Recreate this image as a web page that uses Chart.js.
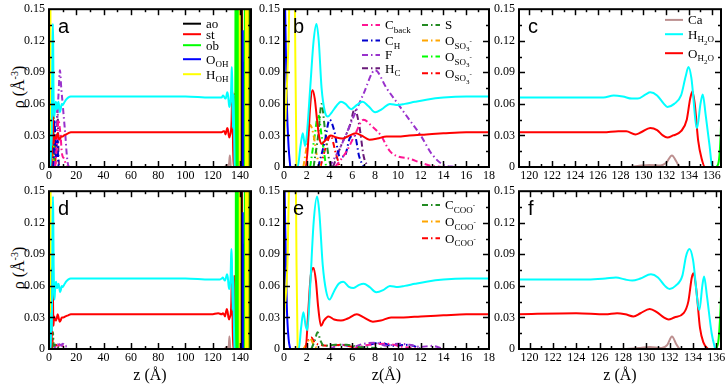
<!DOCTYPE html>
<html>
<head>
<meta charset="utf-8">
<script src="https://cdn.jsdelivr.net/npm/chart.js@4.4.0/dist/chart.umd.min.js"></script>
<style>
  body { margin: 0; background: #fff; width: 726px; height: 386px; position: relative; overflow: hidden; font-family: "Liberation Serif", serif; }
  canvas { position: absolute; }
  .ylab { position: absolute; width: 100px; height: 20px; line-height: 20px; text-align: center; font-size: 16px; transform: rotate(-90deg); }
  .ylab sup { font-size: 10px; }
</style>
</head>
<body>
<div class="ylab" style="left:-35px;top:77px">ρ (Å<sup>-3</sup>)</div>
<div class="ylab" style="left:-35px;top:258px">ρ (Å<sup>-3</sup>)</div>
<script>
// тики
const yTicks = [0, 0.03, 0.06, 0.09, 0.12, 0.15];
const xTicksWide = [0, 20, 40, 60, 80, 100, 120, 140];
const xTicksNear = [0, 2, 4, 6, 8, 10, 12, 14, 16, 18];
const xTicksFar = [120, 122, 124, 126, 128, 130, 132, 134, 136];

// панель b: SO3-поверхность, z 0..18
const hWaterB = [[0,0],[1.2,0],[1.45,0.02],[1.65,0.032],[1.85,0.02],[2.0,0.03],[2.3,0.075],[2.6,0.12],[2.85,0.136],[3.05,0.12],[3.3,0.075],[3.6,0.052],[3.85,0.048],[4.2,0.052],[4.6,0.058],[5.0,0.062],[5.4,0.06],[5.9,0.055],[6.4,0.059],[6.9,0.062],[7.4,0.058],[8.0,0.052],[8.6,0.055],[9.3,0.06],[10.0,0.059],[10.6,0.06],[11.5,0.062],[12.5,0.064],[14,0.066],[16,0.067],[18,0.067]];
const oWaterB = [[0,0],[1.9,0],[2.1,0.02],[2.3,0.058],[2.5,0.073],[2.7,0.065],[2.9,0.045],[3.1,0.028],[3.3,0.022],[3.6,0.025],[4.1,0.03],[4.6,0.028],[5.1,0.027],[5.6,0.029],[6.3,0.032],[6.8,0.03],[7.5,0.026],[8.2,0.027],[9,0.029],[10,0.029],[11,0.03],[12.5,0.031],[14,0.032],[16,0.033],[18,0.033]];
const hOHB = [[0,0.02],[0.4,0.12],[0.55,0.2],[0.9,0.2],[1.0,0.1],[1.1,0]];
const oOHB = [[0,0.2],[0.1,0.15],[0.25,0.06],[0.4,0.02],[0.55,0]];
const cBack = [[4.5,0],[5.5,0.015],[6.2,0.03],[7.0,0.045],[7.6,0.04],[8.5,0.03],[9.3,0.015],[10,0.01],[11,0.008],[12,0.004],[13,0.001],[14,0]];
const cH = [[3,0],[3.6,0.025],[4.0,0.045],[4.4,0.035],[4.9,0.01],[5.3,0.01],[5.8,0.028],[6.2,0.03],[6.6,0.01],[7,0]];
const fluor = [[4,0],[5,0.02],[6,0.045],[7,0.07],[8,0.092],[9,0.075],[10,0.06],[11,0.045],[12,0.03],[13,0.012],[14,0.002],[15,0]];
const hC = [[4.3,0],[5,0.02],[5.8,0.04],[6.2,0.055],[6.6,0.04],[7,0.01],[7.4,0]];
const sulf = [[2.6,0],[3.0,0.03],[3.3,0.06],[3.6,0.035],[4,0.005],[4.3,0]];
const oSO3a = [[1.7,0],[2.0,0.02],[2.3,0.04],[2.6,0.03],[2.9,0.01],[3.2,0]];
const oSO3b = [[2.3,0],[2.7,0.03],[3.0,0.05],[3.3,0.03],[3.7,0]];
const oSO3c = [[3.2,0],[3.7,0.02],[4.1,0.03],[4.5,0.015],[4.9,0]];

// панель e: COO-поверхность, z 0..18
const hWaterE = [[0,0],[1.3,0],[1.5,0.02],[1.7,0.035],[1.9,0.022],[2.05,0.018],[2.3,0.06],[2.6,0.12],[2.9,0.145],[3.1,0.13],[3.4,0.08],[3.7,0.055],[4.0,0.047],[4.4,0.055],[4.8,0.062],[5.2,0.064],[5.7,0.059],[6.1,0.058],[6.6,0.061],[7,0.062],[7.5,0.059],[8.1,0.054],[8.7,0.056],[9.3,0.06],[10,0.059],[10.6,0.06],[11.5,0.062],[12.5,0.064],[14,0.066],[16,0.067],[18,0.067]];
const oWaterE = [[0,0],[1.9,0],[2.1,0.03],[2.35,0.07],[2.6,0.077],[2.8,0.065],[3.0,0.04],[3.25,0.022],[3.5,0.027],[3.9,0.031],[4.4,0.028],[5.0,0.027],[5.6,0.029],[6.4,0.033],[7.0,0.03],[7.8,0.026],[8.5,0.027],[9.4,0.03],[10.5,0.03],[12,0.031],[14,0.032],[16,0.033],[18,0.033]];
const hOHE = [[0,0.03],[0.3,0.08],[0.55,0.2],[1.0,0.2],[1.1,0.08],[1.2,0]];
const oOHE = [[0,0.2],[0.1,0.12],[0.25,0.04],[0.4,0.01],[0.55,0]];
const cCOO = [[2.4,0],[2.7,0.008],[2.95,0.016],[3.2,0.008],[3.5,0.003],[4.5,0.004],[5.5,0.004],[6.5,0.002],[8,0.001],[9,0]];
const oCOOa = [[1.7,0],[2.0,0.005],[2.3,0.01],[2.6,0.004],[3,0]];
const oCOOb = [[1.8,0],[2.1,0.008],[2.4,0.011],[2.7,0.006],[3.2,0.004],[4,0.003],[5,0.004],[6,0.002],[7,0]];
const backE1 = [[4,0],[5,0.004],[6,0.002],[7,0.005],[8,0.006],[9,0.003],[10,0.005],[11,0.004],[12,0.002],[13,0.003],[14,0]];
const backE2 = [[6,0],[7.5,0.004],[9,0.005],[10.5,0.002],[12,0]];
const backE3 = [[6.5,0],[7.5,0.004],[8.5,0.006],[9.5,0.003],[11,0.004],[12,0]];

// панель c: верхняя граница, SO3
const caC = [[119,0],[128.5,0],[129.5,0.001],[130.5,0.002],[131.5,0.0015],[132.0,0.004],[132.5,0.011],[132.9,0.005],[133.2,0],[137,0]];
const hWaterC = [[119,0.066],[122,0.066],[125,0.066],[126.5,0.066],[127.4,0.068],[128.2,0.067],[129,0.065],[129.5,0.065],[130.2,0.069],[130.6,0.071],[131.2,0.068],[131.8,0.06],[132.1,0.057],[132.7,0.06],[133.3,0.068],[133.7,0.086],[133.95,0.095],[134.2,0.085],[134.7,0.037],[135.0,0.06],[135.2,0.069],[135.45,0.05],[135.8,0.02],[136.0,0.002],[136.2,0]];
const oWaterC = [[119,0.033],[124,0.033],[126.5,0.033],[127.8,0.034],[128.5,0.034],[129.3,0.031],[129.8,0.033],[130.6,0.037],[131.2,0.035],[131.7,0.03],[132.1,0.028],[132.6,0.03],[133.3,0.034],[133.8,0.045],[134.1,0.065],[134.3,0.072],[134.5,0.06],[134.8,0.025],[135.1,0.008],[135.4,0],[137,0]];
const obC = [[136.4,0],[136.6,0.005],[136.8,0.04],[137.0,0.15]];

// панель f: верхняя граница, COO
const caF = [[119,0],[128,0],[129.5,0.001],[130.3,0.002],[131.3,0.001],[131.8,0.004],[132.2,0.012],[132.6,0.004],[132.9,0],[137,0]];
const hWaterF = [[119,0.066],[122,0.066],[125,0.066],[126.5,0.067],[127.4,0.068],[128.2,0.066],[128.8,0.065],[129.5,0.067],[130.4,0.071],[131,0.068],[131.6,0.06],[132,0.057],[132.5,0.06],[133.1,0.07],[133.4,0.088],[133.7,0.095],[134.0,0.085],[134.55,0.037],[134.8,0.06],[134.95,0.069],[135.2,0.05],[135.6,0.015],[135.9,0]];
const oWaterF = [[119,0.033],[124,0.034],[126.5,0.033],[127.5,0.034],[128.2,0.033],[128.9,0.031],[129.5,0.034],[130.3,0.038],[130.9,0.035],[131.5,0.03],[131.9,0.028],[132.4,0.03],[133.2,0.034],[133.6,0.045],[133.9,0.068],[134.05,0.072],[134.3,0.055],[134.6,0.02],[134.9,0.006],[135.3,0]];
const obF = [[136.0,0],[136.2,0.01],[136.4,0.05],[136.6,0.15]];

// объём воды и минерал (панели a, d)
const hWaterBulk = [[20,0.067],[40,0.067],[60,0.067],[80,0.067],[100,0.067],[118,0.066]];
const oWaterBulk = [[20,0.033],[40,0.033],[60,0.033],[80,0.033],[100,0.033],[118,0.033]];
const obSpk = [[136.8,0],[137.1,0.5],[137.4,0],[138.0,0],[138.3,0.5],[138.6,0],[143.0,0],[143.3,0.5],[143.6,0],[147.3,0],[147.6,0.5],[147.9,0]];
const hOHSpk = [[139.3,0],[139.6,0.5],[139.9,0],[144.2,0],[144.5,0.5],[144.8,0],[145.2,0],[145.5,0.5],[145.8,0],[147.9,0],[148.2,0.5]];
const oOHSpk = [[141.6,0],[142.0,0.13],[142.4,0],[142.4,0],[142.6,0.1],[142.8,0]];
const aoSpk = [[140.5,0],[140.8,0.5],[141.1,0],[146.0,0],[146.3,0.5],[146.6,0]];
const stSpk = [[135.6,0],[135.9,0.07],[136.2,0],[141.0,0],[141.2,0.2],[141.4,0]];

const DASHDOT = [6, 3, 1.5, 3];
const COL = {
  cyan: '#00ffff', red: '#ff0000', green: '#00ff00', yellow: '#ffff00', blue: '#0000ff',
  black: '#000000', pink: '#ff1493', blueDk: '#0000cd', violet: '#9932cc', purple: '#6a1b7a',
  forest: '#228b22', orange: '#ffa500', rosy: '#bc8f8f'
};

function ds(pts, color, dash, width, sharp) {
  return {
    data: pts.map(([x, y]) => ({ x, y })),
    borderColor: color,
    borderWidth: width || 2,
    borderDash: dash || [],
    pointRadius: 0,
    fill: false,
    clip: 0,
    tension: 0,
    cubicInterpolationMode: sharp ? 'default' : 'monotone'
  };
}

// рамка и внутренние тики как в xmgrace
const frame = {
  id: 'frame',
  afterDraw(chart, args, o) {
    const { ctx, chartArea: a, scales: { x, y } } = chart;
    ctx.save();
    ctx.strokeStyle = '#000';
    ctx.lineWidth = 1.5;
    const seg = (x1, y1, x2, y2) => { ctx.beginPath(); ctx.moveTo(x1, y1); ctx.lineTo(x2, y2); ctx.stroke(); };
    for (let v = o.xMin0; v <= x.max + 1e-9; v += o.xMinor) {
      const px = Math.round(x.getPixelForValue(v)) + 0.5;
      if (px <= a.left + 1 || px >= a.right - 1) continue;
      const len = o.xMajor.includes(+v.toFixed(3)) ? 6 : 3;
      seg(px, a.bottom, px, a.bottom - len);
      seg(px, a.top, px, a.top + len);
    }
    for (let v = 0; v <= 0.15 + 1e-9; v += 0.015) {
      const py = Math.round(y.getPixelForValue(v)) + 0.5;
      if (py <= a.top + 1 || py >= a.bottom - 1) continue;
      const len = yTicks.some(t => Math.abs(t - v) < 1e-6) ? 6 : 3;
      seg(a.left, py, a.left + len, py);
      seg(a.right, py, a.right - len, py);
    }
    ctx.lineWidth = 2;
    ctx.strokeRect(a.left, a.top, a.right - a.left, a.bottom - a.top);
    ctx.restore();
  }
};

// легенда с индексами
const LVL = [{ s: 13, dy: 0 }, { s: 9, dy: 3.5 }, { s: 7, dy: 6 }, { s: 7, dy: -2 }];
const key = {
  id: 'key',
  afterDraw(chart, args, o) {
    if (!o.items) return;
    const { ctx, chartArea: a } = chart;
    ctx.save();
    o.items.forEach(it => {
      const d = chart.data.datasets[it.ds];
      const x0 = a.left + it.x, y0 = a.top + it.y;
      ctx.strokeStyle = d.borderColor;
      ctx.lineWidth = d.borderWidth;
      ctx.setLineDash(d.borderDash || []);
      ctx.beginPath(); ctx.moveTo(x0, y0); ctx.lineTo(x0 + 18, y0); ctx.stroke();
      ctx.setLineDash([]);
      ctx.fillStyle = '#000';
      ctx.textBaseline = 'alphabetic';
      let cx = x0 + 23;
      it.text.forEach(([t, l]) => {
        ctx.font = LVL[l].s + 'px "Liberation Serif"';
        ctx.fillText(t, cx, y0 + 4.5 + LVL[l].dy);
        cx += ctx.measureText(t).width;
      });
    });
    ctx.restore();
  }
};

const tag = {
  id: 'tag',
  afterDraw(chart, args, o) {
    const { ctx, chartArea: a } = chart;
    ctx.save();
    ctx.font = '20px "Liberation Sans"';
    ctx.fillStyle = '#000';
    ctx.textBaseline = 'alphabetic';
    ctx.fillText(o.text, a.left + 9, a.top + 24);
    ctx.restore();
  }
};

function panel(box, xr, xt, xMinor, datasets, letter, items, xTitle) {
  const yW = 40, padT = 8, padR = 12;
  const xH = xTitle ? 386 - box.B : 20;
  const cv = document.createElement('canvas');
  cv.width = yW + box.R - box.L + padR;
  cv.height = padT + box.B - box.T + xH;
  cv.style.left = (box.L - yW) + 'px';
  cv.style.top = (box.T - padT) + 'px';
  document.body.appendChild(cv);
  new Chart(cv, {
    type: 'line',
    data: { datasets },
    options: {
      responsive: false,
      animation: false,
      devicePixelRatio: 1,
      layout: { padding: { top: padT, right: padR, left: 0, bottom: 0 } },
      plugins: {
        legend: { display: false },
        tooltip: { enabled: false },
        frame: { xMajor: xt, xMinor, xMin0: xt[0] - xMinor * Math.floor((xt[0] - xr[0]) / xMinor) },
        key: { items },
        tag: { text: letter }
      },
      scales: {
        x: {
          type: 'linear', min: xr[0], max: xr[1],
          afterBuildTicks: s => { s.ticks = xt.map(v => ({ value: v })); },
          afterFit: s => { s.height = xH; },
          grid: { display: false, drawTicks: false }, border: { display: false },
          ticks: { autoSkip: false, maxRotation: 0, padding: 2, color: '#000', font: { family: 'Liberation Serif', size: 12 }, callback: v => String(v) },
          title: xTitle ? { display: true, text: xTitle, color: '#000', font: { family: 'Liberation Serif', size: 16 }, padding: { top: 0, bottom: 1 } } : { display: false }
        },
        y: {
          min: 0, max: 0.15,
          afterBuildTicks: s => { s.ticks = yTicks.map(v => ({ value: v })); },
          afterFit: s => { s.width = yW; },
          grid: { display: false, drawTicks: false }, border: { display: false },
          ticks: { autoSkip: false, padding: 4, color: '#000', font: { family: 'Liberation Serif', size: 12 }, callback: v => v === 0 ? '0' : v.toFixed(2) }
        }
      }
    },
    plugins: [frame, key, tag]
  });
}

const sub = t => [t, 1], sub2 = t => [t, 2], sup = t => [t, 3], m = t => [t, 0];

// a
panel({ L: 49, T: 6, R: 251, B: 167 }, [0, 148], xTicksWide, 10, [
  ds([...hWaterB, ...hWaterBulk, ...hWaterC], COL.cyan),
  ds([...oWaterB, ...oWaterBulk, ...oWaterC], COL.red),
  ds(caC, COL.rosy),
  ds([...hOHB, ...hOHSpk], COL.yellow, null, 2, true),
  ds([...obC.slice(0, 1), ...obSpk], COL.green, null, 2, true),
  ds([...oOHB, ...oOHSpk], COL.blue, null, 2, true),
  ds(aoSpk, COL.black, null, 2, true),
  ds(stSpk, COL.red, null, 2, true),
  ds(cBack, COL.pink, DASHDOT),
  ds(cH, COL.blueDk, DASHDOT),
  ds(fluor, COL.violet, DASHDOT),
  ds(hC, COL.purple, DASHDOT),
  ds(sulf, COL.forest, DASHDOT),
  ds(oSO3a, COL.orange, DASHDOT),
  ds(oSO3b, COL.green, DASHDOT),
  ds(oSO3c, COL.red, DASHDOT)
], 'a', [
  { ds: 6, x: 134, y: 14.5, text: [m('ao')] },
  { ds: 7, x: 134, y: 25, text: [m('st')] },
  { ds: 4, x: 134, y: 36, text: [m('ob')] },
  { ds: 5, x: 134, y: 50, text: [m('O'), sub('OH')] },
  { ds: 3, x: 134, y: 65, text: [m('H'), sub('OH')] }
]);

// b
panel({ L: 284, T: 6, R: 489, B: 167 }, [0, 18], xTicksNear, 1, [
  ds(hWaterB, COL.cyan),
  ds(oWaterB, COL.red),
  ds(cBack, COL.pink, DASHDOT),
  ds(cH, COL.blueDk, DASHDOT),
  ds(fluor, COL.violet, DASHDOT),
  ds(hC, COL.purple, DASHDOT),
  ds(sulf, COL.forest, DASHDOT),
  ds(oSO3a, COL.orange, DASHDOT),
  ds(oSO3b, COL.green, DASHDOT),
  ds(oSO3c, COL.red, DASHDOT),
  ds(hOHB, COL.yellow),
  ds(oOHB, COL.blue)
], 'b', [
  { ds: 2, x: 78, y: 15.7, text: [m('C'), sub('back')] },
  { ds: 3, x: 78, y: 31.3, text: [m('C'), sub('H')] },
  { ds: 4, x: 78, y: 45.7, text: [m('F')] },
  { ds: 5, x: 78, y: 59, text: [m('H'), sub('C')] },
  { ds: 6, x: 138, y: 15.7, text: [m('S')] },
  { ds: 7, x: 138, y: 31.3, text: [m('O'), sub('SO'), sub2('3'), sup('-')] },
  { ds: 8, x: 138, y: 47.3, text: [m('O'), sub('SO'), sub2('3'), sup('-')] },
  { ds: 9, x: 138, y: 64, text: [m('O'), sub('SO'), sub2('3'), sup('-')] }
]);

// c
panel({ L: 519, T: 6, R: 721, B: 167 }, [119.1, 136.8], xTicksFar, 1, [
  ds(caC, COL.rosy),
  ds(hWaterC, COL.cyan),
  ds(oWaterC, COL.red),
  ds(obC, COL.green)
], 'c', [
  { ds: 0, x: 146, y: 10.7, text: [m('Ca')] },
  { ds: 1, x: 146, y: 25, text: [m('H'), sub('H'), sub2('2'), sub('O')] },
  { ds: 2, x: 146, y: 44, text: [m('O'), sub('H'), sub2('2'), sub('O')] }
]);

// d
panel({ L: 49, T: 188, R: 251, B: 349 }, [0, 148], xTicksWide, 10, [
  ds([...hWaterE, ...hWaterBulk, ...hWaterF], COL.cyan),
  ds([...oWaterE, ...oWaterBulk, ...oWaterF], COL.red),
  ds(caF, COL.rosy),
  ds([...hOHE, ...hOHSpk], COL.yellow, null, 2, true),
  ds([...obF.slice(0, 1), ...obSpk], COL.green, null, 2, true),
  ds([...oOHE, ...oOHSpk], COL.blue, null, 2, true),
  ds(aoSpk, COL.black, null, 2, true),
  ds(stSpk, COL.red, null, 2, true),
  ds(cCOO, COL.forest, DASHDOT),
  ds(oCOOa, COL.orange, DASHDOT),
  ds(oCOOb, COL.red, DASHDOT),
  ds(backE1, COL.violet, DASHDOT),
  ds(backE2, COL.pink, DASHDOT)
], 'd', [], 'z (Å)');

// e
panel({ L: 284, T: 188, R: 489, B: 349 }, [0, 18], xTicksNear, 1, [
  ds(hWaterE, COL.cyan),
  ds(oWaterE, COL.red),
  ds(cCOO, COL.forest, DASHDOT),
  ds(oCOOa, COL.orange, DASHDOT),
  ds(oCOOb, COL.red, DASHDOT),
  ds(backE1, COL.violet, DASHDOT),
  ds(backE2, COL.pink, DASHDOT),
  ds(backE3, COL.blueDk, DASHDOT),
  ds(hOHE, COL.yellow),
  ds(oOHE, COL.blue)
], 'e', [
  { ds: 2, x: 138, y: 13.7, text: [m('C'), sub('COO'), sup('-')] },
  { ds: 3, x: 138, y: 30.3, text: [m('O'), sub('COO'), sup('-')] },
  { ds: 4, x: 138, y: 47, text: [m('O'), sub('COO'), sup('-')] }
], 'z(Å)');

// f
panel({ L: 519, T: 188, R: 721, B: 349 }, [119.1, 136.4], xTicksFar, 1, [
  ds(caF, COL.rosy),
  ds(hWaterF, COL.cyan),
  ds(oWaterF, COL.red),
  ds(obF, COL.green)
], 'f', [], 'z (Å)');
</script>
</body>
</html>
